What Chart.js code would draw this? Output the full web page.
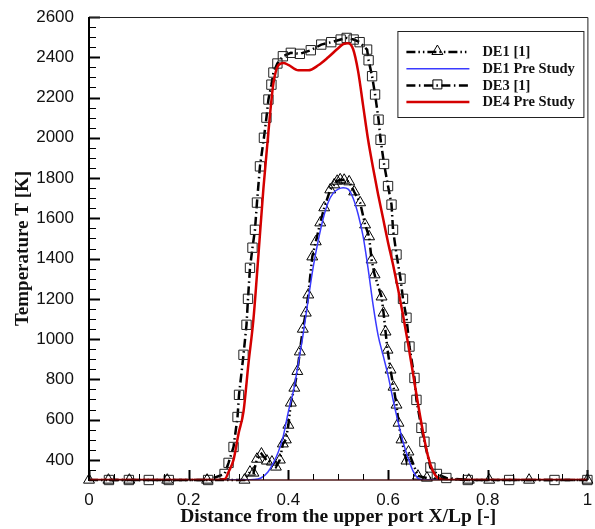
<!DOCTYPE html>
<html>
<head>
<meta charset="utf-8">
<script src="https://cdn.jsdelivr.net/npm/chart.js@4/dist/chart.umd.min.js"></script>
<style>
  html, body { margin: 0; padding: 0; background: #fff; }
  #wrap { width: 595px; height: 529px; }
</style>
</head>
<body>
<div id="wrap"><canvas id="tempChart" width="595" height="529"></canvas></div>
<script>
// Datos (X/Lp, Temperatura en K)
const de1X = [0, 0.039, 0.081, 0.157, 0.237, 0.312, 0.323, 0.33, 0.337, 0.346, 0.357, 0.367, 0.375, 0.383, 0.389, 0.395, 0.4, 0.405, 0.412, 0.418, 0.423, 0.429, 0.435, 0.44, 0.448, 0.455, 0.464, 0.472, 0.484, 0.492, 0.498, 0.504, 0.512, 0.522, 0.532, 0.544, 0.554, 0.562, 0.567, 0.573, 0.587, 0.591, 0.595, 0.599, 0.605, 0.611, 0.617, 0.621, 0.627, 0.637, 0.641, 0.66, 0.678, 0.762, 0.803, 0.883, 1.0];
const de1T = [300, 300, 300, 300, 300, 300, 340, 335, 404, 430, 395, 390, 365, 400, 480, 500, 573, 683, 757, 840, 937, 1050, 1130, 1220, 1409, 1484, 1578, 1653, 1742, 1767, 1785, 1792, 1790, 1782, 1732, 1678, 1568, 1509, 1394, 1320, 1210, 1130, 1036, 946, 847, 762, 673, 583, 500, 395, 440, 320, 310, 300, 300, 300, 300];

const de3X = [0.04, 0.08, 0.12, 0.16, 0.239, 0.272, 0.28, 0.29, 0.298, 0.301, 0.31, 0.316, 0.319, 0.323, 0.328, 0.333, 0.337, 0.343, 0.351, 0.356, 0.36, 0.366, 0.37, 0.378, 0.389, 0.405, 0.423, 0.445, 0.466, 0.486, 0.505, 0.517, 0.531, 0.543, 0.558, 0.561, 0.568, 0.574, 0.581, 0.585, 0.592, 0.6, 0.607, 0.61, 0.617, 0.625, 0.63, 0.637, 0.643, 0.653, 0.657, 0.667, 0.673, 0.685, 0.698, 0.717, 0.76, 0.843, 0.934, 1.0];
const de3T = [300, 300, 300, 300, 300, 330, 385, 464, 613, 723, 922, 1071, 1200, 1354, 1454, 1543, 1678, 1858, 2000, 2100, 2190, 2264, 2324, 2369, 2405, 2422, 2417, 2435, 2463, 2475, 2488, 2496, 2488, 2475, 2438, 2385, 2306, 2215, 2090, 1990, 1870, 1760, 1668, 1543, 1420, 1300, 1200, 1106, 963, 807, 698, 559, 490, 362, 330, 310, 300, 300, 300, 300];

const blueX = [0, 0.3, 0.33, 0.345, 0.359, 0.37, 0.38, 0.39, 0.4, 0.41, 0.42, 0.43, 0.44, 0.45, 0.46, 0.47, 0.48, 0.49, 0.5, 0.51, 0.52, 0.53, 0.54, 0.55, 0.56, 0.57, 0.58, 0.59, 0.6, 0.61, 0.62, 0.63, 0.64, 0.65, 0.66, 0.67, 1.0];
const blueT = [300, 300, 302, 310, 340, 385, 440, 520, 640, 740, 880, 1030, 1200, 1360, 1490, 1600, 1680, 1725, 1745, 1752, 1745, 1700, 1620, 1510, 1350, 1170, 1020, 920, 820, 700, 590, 490, 410, 345, 308, 300, 300];

const redX = [0, 0.26, 0.273, 0.28, 0.29, 0.3, 0.31, 0.32, 0.33, 0.34, 0.35, 0.36, 0.37, 0.38, 0.39, 0.4, 0.42, 0.44, 0.46, 0.48, 0.5, 0.51, 0.52, 0.53, 0.54, 0.55, 0.56, 0.57, 0.58, 0.59, 0.6, 0.61, 0.62, 0.63, 0.64, 0.65, 0.66, 0.67, 0.68, 0.69, 0.7, 0.712, 1.0];
const redT = [300, 300, 305, 340, 400, 530, 640, 880, 1100, 1420, 1750, 2030, 2270, 2360, 2372, 2362, 2335, 2335, 2360, 2400, 2445, 2465, 2470, 2440, 2330, 2160, 1990, 1850, 1720, 1600, 1480, 1370, 1250, 1120, 980, 830, 680, 540, 420, 345, 310, 300, 300];

const xTickVals = [0, 0.2, 0.4, 0.6, 0.8, 1];
const yTickVals = [400, 600, 800, 1000, 1200, 1400, 1600, 1800, 2000, 2200, 2400, 2600];

const seriesNames = ['DE1 [1]', 'DE1 Pre Study', 'DE3 [1]', 'DE4 Pre Study'];

function toPoints(xs, ys) {
  return xs.map((x, i) => ({ x: x, y: ys[i] }));
}

const serif = '"Liberation Serif", "Times New Roman", serif';
const sans = '"Liberation Sans", Arial, sans-serif';

// Marcos y ticks hacia adentro, como en el original
const frameTicks = {
  id: 'frameTicks',
  afterDatasetsDraw(chart) {
    const { ctx, chartArea: a, scales } = chart;
    const xs = scales.x, ys = scales.y;
    ctx.save();
    ctx.strokeStyle = '#000';
    // ticks menores y mayores del eje x
    for (let v = 0; v <= 1.0001; v += 0.05) {
      const px = Math.round(xs.getPixelForValue(v)) + 0.5;
      const major = Math.abs(v * 5 - Math.round(v * 5)) < 1e-6;
      ctx.lineWidth = major ? 2 : 1;
      ctx.beginPath();
      ctx.moveTo(px, a.bottom);
      ctx.lineTo(px, a.bottom - (major ? 10 : 6));
      ctx.stroke();
    }
    // ticks del eje y
    for (let v = 300; v <= 2600; v += 50) {
      const py = Math.round(ys.getPixelForValue(v)) + 0.5;
      const major = v % 200 === 0;
      ctx.lineWidth = major ? 2 : 1;
      ctx.beginPath();
      ctx.moveTo(a.left, py);
      ctx.lineTo(a.left + (major ? 11 : 7), py);
      ctx.stroke();
    }
    // marco
    ctx.lineWidth = 1;
    ctx.strokeStyle = '#222';
    ctx.beginPath();
    ctx.moveTo(a.left, a.top + 0.5);
    ctx.lineTo(a.right + 0.5, a.top + 0.5);
    ctx.lineTo(a.right + 0.5, a.bottom);
    ctx.stroke();
    ctx.lineWidth = 2;
    ctx.strokeStyle = '#000';
    ctx.beginPath();
    ctx.moveTo(a.left, a.top);
    ctx.lineTo(a.left, a.bottom + 1);
    ctx.stroke();
    ctx.strokeStyle = 'rgba(60,0,0,0.9)';
    ctx.lineWidth = 1.5;
    ctx.beginPath();
    ctx.moveTo(a.left, a.bottom);
    ctx.lineTo(a.right, a.bottom);
    ctx.stroke();
    ctx.restore();
  }
};

function drawMarker(ctx, style, x, y) {
  ctx.beginPath();
  if (style === 'triangle') {
    ctx.moveTo(x, y - 6);
    ctx.lineTo(x + 5.5, y + 3.5);
    ctx.lineTo(x - 5.5, y + 3.5);
    ctx.closePath();
  } else {
    ctx.rect(x - 4.5, y - 4.5, 9, 9);
  }
  ctx.stroke();
}

// Leyenda con recuadro
const boxLegend = {
  id: 'boxLegend',
  afterDraw(chart) {
    const { ctx, chartArea: a } = chart;
    const bx = a.right - 190, by = a.top + 14, bw = 186, bh = 86;
    ctx.save();
    ctx.fillStyle = '#fff';
    ctx.fillRect(bx, by, bw, bh);
    ctx.strokeStyle = '#222';
    ctx.lineWidth = 1;
    ctx.strokeRect(bx + 0.5, by + 0.5, bw, bh);
    [0, 1, 2, 3].forEach((di, row) => {
      const ds = chart.data.datasets[di];
      const y = by + 21 + row * 16.7;
      ctx.strokeStyle = ds.borderColor;
      ctx.lineWidth = ds.borderWidth;
      ctx.setLineDash(ds.borderDash || []);
      ctx.beginPath();
      ctx.moveTo(bx + 9, y);
      ctx.lineTo(bx + 72, y);
      ctx.stroke();
      ctx.setLineDash([]);
      if (ds.pointStyle && ds.pointRadius > 0) {
        ctx.lineWidth = 1;
        ctx.strokeStyle = '#000';
        drawMarker(ctx, ds.pointStyle, bx + 40, y - 1);
      }
      ctx.fillStyle = '#111';
      ctx.font = 'bold 14.5px ' + serif;
      ctx.textBaseline = 'middle';
      ctx.fillText(seriesNames[di], bx + 85, y + 0.5);
    });
    ctx.restore();
  }
};

const ctx = document.getElementById('tempChart').getContext('2d');

const tempChart = new Chart(ctx, {
  type: 'line',
  data: {
    datasets: [
      {
        label: seriesNames[0],
        data: toPoints(de1X, de1T),
        borderColor: '#000',
        borderWidth: 2.5,
        borderDash: [9, 3, 1.5, 3, 1.5, 3],
        pointStyle: 'triangle',
        pointRadius: 6.3,
        pointBorderWidth: 1,
        pointBorderColor: '#000',
        pointBackgroundColor: 'rgba(255,255,255,0)',
        clip: false,
        order: 2
      },
      {
        label: seriesNames[1],
        data: toPoints(blueX, blueT),
        borderColor: '#3a3aff',
        borderWidth: 1.5,
        pointRadius: 0,
        cubicInterpolationMode: 'monotone',
        order: 1
      },
      {
        label: seriesNames[2],
        data: toPoints(de3X, de3T),
        borderColor: '#000',
        borderWidth: 2.5,
        borderDash: [9, 3.5, 1.5, 3.5],
        pointStyle: 'rect',
        pointRadius: 6.6,
        pointBorderWidth: 1,
        pointBorderColor: '#222',
        pointBackgroundColor: 'rgba(255,255,255,0)',
        clip: false,
        order: 3
      },
      {
        label: seriesNames[3],
        data: toPoints(redX, redT),
        borderColor: '#d40000',
        borderWidth: 2.5,
        pointRadius: 0,
        cubicInterpolationMode: 'monotone',
        order: 0
      }
    ]
  },
  options: {
    responsive: false,
    animation: false,
    layout: { padding: { top: 17, right: 2, left: 0, bottom: 0 } },
    plugins: {
      legend: { display: false },
      tooltip: { enabled: false }
    },
    scales: {
      x: {
        type: 'linear',
        min: 0,
        max: 1,
        afterBuildTicks: (s) => { s.ticks = xTickVals.map(v => ({ value: v })); },
        afterFit: (s) => { s.height = 49; s.paddingLeft = 0; s.paddingRight = 0; },
        ticks: {
          autoSkip: false,
          maxRotation: 0,
          padding: 2,
          color: '#111',
          font: { family: sans, size: 17 },
          callback: (v) => (v === 0 || v === 1) ? String(v) : v.toFixed(1)
        },
        grid: { display: false },
        border: { display: false },
        title: {
          display: true,
          text: 'Distance from the upper port X/Lp [-]',
          color: '#111',
          font: { family: serif, size: 19.5, weight: 'bold' },
          padding: { top: 0, bottom: 0 }
        }
      },
      y: {
        type: 'linear',
        min: 300,
        max: 2600,
        afterBuildTicks: (s) => { s.ticks = yTickVals.map(v => ({ value: v })); },
        afterFit: (s) => { s.width = 89; s.paddingTop = 0; s.paddingBottom = 0; },
        ticks: {
          autoSkip: false,
          padding: 7,
          color: '#111',
          font: { family: sans, size: 17 },
          callback: (v) => String(v)
        },
        grid: { display: false },
        border: { display: false },
        title: {
          display: true,
          text: 'Temperature T [K]',
          color: '#111',
          font: { family: serif, size: 19, weight: 'bold' },
          padding: { top: 12, bottom: 0 }
        }
      }
    }
  },
  plugins: [frameTicks, boxLegend]
});
</script>
</body>
</html>
